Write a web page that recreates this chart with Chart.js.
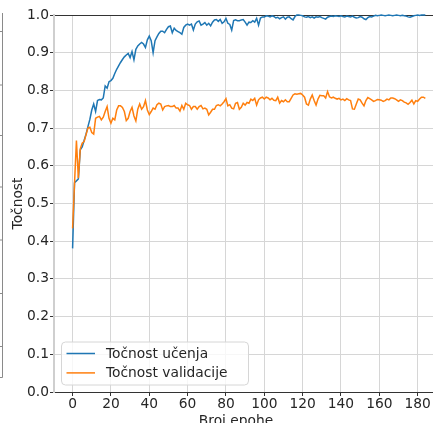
<!DOCTYPE html>
<html><head><meta charset="utf-8">
<script src="https://cdn.jsdelivr.net/npm/chart.js@4/dist/chart.umd.min.js"></script>
<style>html,body{margin:0;padding:0;background:#fff}canvas{display:block}</style>
</head><body>
<canvas id="c" width="433" height="423"></canvas>
<script>
const seriesNames = ['Točnost učenja', 'Točnost validacije'];
const trainAcc = [
0.381,0.555,0.560,0.565,0.642,0.650,0.667,0.684,0.704,0.723,
0.748,0.764,0.744,0.773,0.776,0.775,0.780,0.812,0.806,0.823,
0.826,0.832,0.845,0.856,0.865,0.874,0.882,0.889,0.894,0.898,
0.887,0.903,0.881,0.909,0.918,0.923,0.927,0.923,0.914,0.934,
0.944,0.932,0.900,0.932,0.942,0.951,0.957,0.957,0.953,0.962,
0.969,0.971,0.953,0.965,0.959,0.956,0.953,0.949,0.967,0.973,
0.976,0.973,0.976,0.960,0.976,0.982,0.984,0.973,0.976,0.980,
0.973,0.978,0.971,0.981,0.987,0.988,0.983,0.988,0.978,0.982,
0.991,0.978,0.975,0.960,0.985,0.987,0.985,0.985,0.987,0.988,
0.981,0.973,0.981,0.980,0.985,0.981,0.991,0.973,0.992,0.995,
0.995,0.998,0.997,0.995,0.998,0.996,0.992,0.994,0.990,0.993,
0.995,0.989,0.994,0.995,0.990,0.987,0.996,1.000,1.000,0.999,
0.998,0.995,0.994,0.996,0.993,0.995,0.992,0.995,0.994,0.996,
0.993,0.991,0.989,0.994,0.996,0.997,0.996,0.998,0.997,0.996,
0.998,0.996,0.995,0.997,0.996,0.995,0.997,0.994,0.992,0.993,
0.996,0.994,0.990,0.988,0.993,0.996,0.995,0.997,0.999,0.998,
0.999,1.000,0.999,0.998,0.999,1.000,0.999,0.998,0.999,1.000,
0.999,0.998,0.999,0.998,0.997,0.995,0.994,0.996,0.998,0.999,
1.000,0.999,1.000,1.000,1.000
];
const valAcc = [
0.434,0.553,0.667,0.567,0.645,0.660,0.664,0.682,0.700,0.702,
0.688,0.684,0.726,0.729,0.731,0.722,0.729,0.744,0.757,0.726,
0.713,0.726,0.722,0.748,0.759,0.759,0.755,0.744,0.720,0.726,
0.744,0.755,0.732,0.719,0.750,0.764,0.750,0.757,0.773,0.748,
0.736,0.744,0.753,0.750,0.762,0.766,0.764,0.748,0.757,0.759,
0.760,0.757,0.757,0.760,0.753,0.753,0.745,0.760,0.750,0.766,
0.762,0.760,0.750,0.757,0.757,0.750,0.757,0.760,0.751,0.753,
0.750,0.735,0.742,0.750,0.750,0.760,0.762,0.759,0.764,0.770,
0.778,0.759,0.762,0.753,0.751,0.766,0.768,0.750,0.755,0.766,
0.761,0.768,0.766,0.777,0.773,0.779,0.761,0.775,0.780,0.782,
0.777,0.782,0.780,0.775,0.779,0.774,0.773,0.782,0.766,0.773,
0.770,0.775,0.770,0.770,0.779,0.788,0.791,0.790,0.791,0.792,
0.788,0.782,0.764,0.761,0.777,0.788,0.773,0.761,0.777,0.787,
0.786,0.786,0.780,0.797,0.783,0.780,0.782,0.779,0.777,0.779,
0.775,0.777,0.773,0.778,0.775,0.773,0.751,0.750,0.764,0.777,
0.775,0.766,0.759,0.773,0.781,0.778,0.775,0.771,0.773,0.776,
0.775,0.774,0.771,0.773,0.777,0.775,0.780,0.780,0.778,0.775,
0.771,0.775,0.773,0.769,0.767,0.763,0.768,0.774,0.764,0.773,
0.771,0.777,0.782,0.782,0.779
];
const xTicks = [0,20,40,60,80,100,120,140,160,180];
const yTicks = [0,0.1,0.2,0.3,0.4,0.5,0.6,0.7,0.8,0.9,1.0];
const xTitle = 'Broj epohe';
const yTitle = 'Točnost';

const epochs = trainAcc.map((_, i) => i);
const FONT = "'DejaVu Sans', sans-serif";
const TXT = '#262626';
const FS = 13.8;
Chart.defaults.font.family = FONT;
Chart.defaults.font.size = FS;
Chart.defaults.color = TXT;

const boxLegend = {
  id: 'boxLegend',
  afterDraw(chart) {
    const ctx = chart.ctx, a = chart.chartArea;
    const x0 = a.left + 7.5, y1 = a.bottom - 7, w = 187, h = 43, r = 4;
    const y0 = y1 - h;
    ctx.save();
    ctx.beginPath();
    ctx.moveTo(x0 + r, y0);
    ctx.arcTo(x0 + w, y0, x0 + w, y0 + h, r);
    ctx.arcTo(x0 + w, y0 + h, x0, y0 + h, r);
    ctx.arcTo(x0, y0 + h, x0, y0, r);
    ctx.arcTo(x0, y0, x0 + w, y0, r);
    ctx.closePath();
    ctx.fillStyle = 'rgba(255,255,255,0.8)';
    ctx.fill();
    ctx.strokeStyle = '#d6d6d6';
    ctx.lineWidth = 1;
    ctx.stroke();
    chart.data.datasets.forEach((ds, i) => {
      const yy = y0 + 11.5 + i * 19.4;
      ctx.beginPath();
      ctx.moveTo(x0 + 5, yy);
      ctx.lineTo(x0 + 33.5, yy);
      ctx.strokeStyle = ds.borderColor;
      ctx.lineWidth = 1.5;
      ctx.stroke();
      ctx.fillStyle = TXT;
      ctx.font = FS + 'px ' + FONT;
      ctx.textBaseline = 'middle';
      ctx.textAlign = 'left';
      ctx.fillText(ds.label, x0 + 44.5, yy + 0.5);
    });
    ctx.restore();
  }
};

const extras = {
  id: 'extras',
  beforeDraw(chart) {
    const ctx = chart.ctx;
    ctx.save();
    ctx.strokeStyle = '#8a8a8a';
    ctx.lineWidth = 1;
    ctx.beginPath();
    ctx.moveTo(2.5, 13); ctx.lineTo(2.5, 377.5); ctx.lineTo(0, 377.5);
    [31.5, 85, 135.5, 187, 240, 293.5, 346.5].forEach(y => { ctx.moveTo(0, y); ctx.lineTo(2.5, y); });
    ctx.stroke();
    ctx.restore();
  },
  afterDraw(chart) {
    const ctx = chart.ctx;
    ctx.save();
    ctx.fillStyle = TXT;
    ctx.font = FS + 'px ' + FONT;
    ctx.textAlign = 'center';
    ctx.textBaseline = 'alphabetic';
    ctx.fillText(xTitle, 236, 425);
    ctx.restore();
  }
};

new Chart(document.getElementById('c'), {
  type: 'line',
  data: {
    datasets: [
      { label: seriesNames[0], data: epochs.map(i => ({x: i, y: trainAcc[i]})),
        borderColor: '#1f77b4', backgroundColor: '#1f77b4', borderWidth: 1.5,
        pointRadius: 0, tension: 0, order: 1, clip: false },
      { label: seriesNames[1], data: epochs.map(i => ({x: i, y: valAcc[i]})),
        borderColor: '#ff7f0e', backgroundColor: '#ff7f0e', borderWidth: 1.5,
        pointRadius: 0, tension: 0, order: 0, clip: false }
    ]
  },
  options: {
    responsive: false,
    animation: false,
    devicePixelRatio: 1,
    layout: { padding: { top: 15, right: 0, bottom: 0, left: 0 } },
    plugins: { legend: { display: false }, tooltip: { enabled: false } },
    scales: {
      x: {
        type: 'linear', min: -9.7, max: 188.0,
        afterBuildTicks: s => { s.ticks = xTicks.map(v => ({ value: v })); },
        afterFit: s => { s.height = 31; },
        ticks: { color: TXT, padding: 0, maxRotation: 0, autoSkip: false, font: { size: FS } },
        grid: { color: '#d6d6d6', lineWidth: 1, tickColor: '#333', tickLength: 4 },
        border: { color: '#333', width: 1 }
      },
      y: {
        type: 'linear', min: 0, max: 1,
        afterBuildTicks: s => { s.ticks = yTicks.map(v => ({ value: v })); },
        afterFit: s => { s.width = 54; },
        ticks: { color: TXT, padding: 1, callback: v => Number(v).toFixed(1), font: { size: FS } },
        grid: {
          color: c => (c.tick && Math.abs(c.tick.value - 1) < 1e-9) ? '#333' :
                      (c.tick && Math.abs(c.tick.value) < 1e-9) ? 'rgba(0,0,0,0)' : '#d6d6d6',
          lineWidth: 1, tickColor: '#333', tickLength: 4
        },
        border: { color: '#cfcfcf', width: 2 },
        title: { display: true, text: yTitle, color: TXT, font: { size: FS }, padding: { top: 10.3, bottom: 0 } }
      }
    }
  },
  plugins: [boxLegend, extras]
});
</script>
</body></html>
